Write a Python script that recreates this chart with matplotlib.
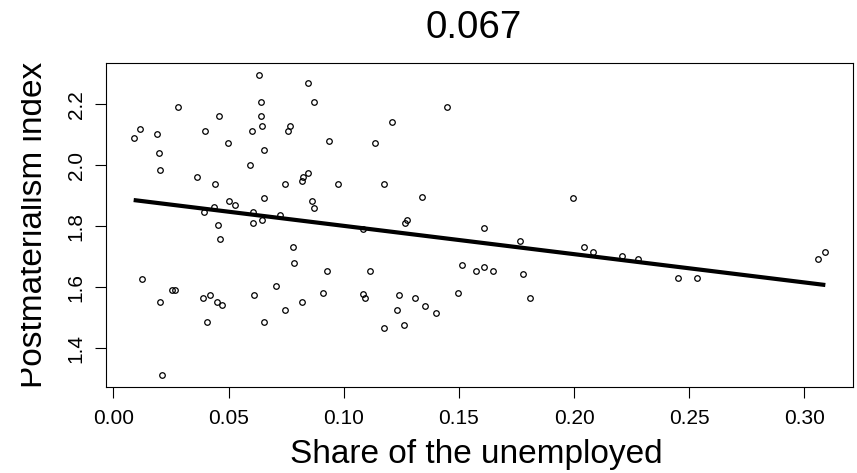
import matplotlib
matplotlib.use("Agg")
import matplotlib.pyplot as plt
from matplotlib.transforms import Bbox, TransformedBbox
import numpy as np

plt.rcParams["font.family"] = ["Liberation Sans", "DejaVu Sans"]

# Share of the unemployed per region
unemployed_share = [
    0.0088, 0.0114, 0.0123, 0.0188, 0.0197, 0.0204, 0.0202, 0.0209, 0.0255, 0.0268,
    0.0282, 0.0363, 0.0388, 0.0396, 0.0395, 0.0405, 0.0418, 0.0440, 0.0448, 0.0455,
    0.0460, 0.0464, 0.0471, 0.0498, 0.0500, 0.0530, 0.0593, 0.0603, 0.0604, 0.0611,
    0.0631, 0.0641, 0.0641, 0.0646, 0.0647, 0.0655, 0.0655, 0.0656, 0.0706, 0.0744,
    0.0744, 0.0757, 0.0767, 0.0781, 0.0782, 0.0818, 0.0820, 0.0824, 0.0847, 0.0847,
    0.0863, 0.0871, 0.0872, 0.0909, 0.0929, 0.0938, 0.0973, 0.1082, 0.1092, 0.1113,
    0.1137, 0.1173, 0.1173, 0.1208, 0.1232, 0.1241, 0.1263, 0.1268, 0.1276, 0.1308,
    0.1341, 0.1355, 0.1400, 0.1448, 0.1498, 0.1514, 0.1574, 0.1610, 0.1609, 0.1646,
    0.1765, 0.1780, 0.1808, 0.1995, 0.2045, 0.2083, 0.2209, 0.2277, 0.2450, 0.2535,
    0.3061, 0.3091, 0.0435, 0.0608, 0.0722, 0.1083,
]

# Postmaterialism index per region
postmat_index = [
    2.090, 2.118, 1.627, 2.102, 2.041, 1.984, 1.551, 1.312, 1.592, 1.592,
    2.191, 1.962, 1.564, 2.113, 1.847, 1.486, 1.576, 1.938, 1.553, 1.805,
    2.163, 1.759, 1.541, 2.073, 1.884, 1.871, 2.000, 2.113, 1.809, 1.575,
    2.296, 2.208, 2.163, 2.129, 1.821, 2.050, 1.894, 1.486, 1.603, 1.524,
    1.938, 2.113, 2.129, 1.731, 1.680, 1.949, 1.552, 1.962, 2.270, 1.973,
    1.884, 2.208, 1.861, 1.581, 1.653, 2.080, 1.938, 1.578, 1.565, 1.654,
    2.073, 1.940, 1.465, 2.141, 1.525, 1.576, 1.476, 1.810, 1.822, 1.566,
    1.895, 1.538, 1.514, 2.191, 1.582, 1.672, 1.654, 1.793, 1.665, 1.653,
    1.753, 1.642, 1.564, 1.894, 1.731, 1.715, 1.701, 1.693, 1.631, 1.631,
    1.691, 1.715, 1.862, 1.845, 1.836, 1.791,
]

# Linear fit: intercept and slope
fit_intercept = 1.894
fit_slope = -0.928

title_text = "0.067"
x_label = "Share of the unemployed"
y_label = "Postmaterialism index"
x_ticks = [0.00, 0.05, 0.10, 0.15, 0.20, 0.25, 0.30]
x_tick_labels = ["0.00", "0.05", "0.10", "0.15", "0.20", "0.25", "0.30"]
y_ticks = [1.4, 1.6, 1.8, 2.0, 2.2]
y_tick_labels = ["1.4", "1.6", "1.8", "2.0", "2.2"]

W, H = 857, 473
fig = plt.figure(figsize=(W / 100, H / 100), dpi=100)
ax = fig.add_axes([106 / W, 1 - 387 / H, (853 - 106) / W, (387 - 63) / H])

x = np.asarray(unemployed_share)
y = np.asarray(postmat_index)

ax.plot(x, y, linestyle="none", marker="o", markerfacecolor="none",
        markeredgecolor="black", markersize=4.0, markeredgewidth=0.9)

xs = np.array([x.min(), x.max()])
ax.plot(xs, fit_intercept + fit_slope * xs, color="black", linewidth=3,
        solid_capstyle="butt")

# 4% padding around the data range
xr = x.max() - x.min()
yr = y.max() - y.min()
ax.set_xlim(x.min() - 0.04 * xr, x.max() + 0.04 * xr)
ax.set_ylim(y.min() - 0.04 * yr, y.max() + 0.04 * yr)

ax.set_xticks(x_ticks)
ax.set_xticklabels(x_tick_labels)
ax.set_yticks(y_ticks)
ax.set_yticklabels(y_tick_labels)

ax.tick_params(axis="both", direction="out", length=8, width=0.8,
               labelsize=15, colors="black")
ax.tick_params(axis="x", pad=7.5)
ax.tick_params(axis="y", pad=6.5)
for lab in ax.get_yticklabels():
    lab.set_rotation(90)
    lab.set_verticalalignment("center")
    lab.set_horizontalalignment("right")

for sp in ax.spines.values():
    sp.set_linewidth(0.8)
    sp.set_color("black")

fig.text(474 / W, 1 - 38 / H, title_text, ha="center", va="baseline",
         fontsize=27.7)
fig.text(476 / W, 1 - 463 / H, x_label, ha="center", va="baseline",
         fontsize=24)
ylab = fig.text(42 / W, 1 - 225 / H, y_label, rotation=90,
                rotation_mode="anchor", ha="center", va="baseline",
                fontsize=24)
ylab.set_clip_box(TransformedBbox(Bbox([[21 / W, 0], [1, 1]]), fig.transFigure))
ylab.set_clip_on(True)

fig.savefig("out.png", dpi=100, facecolor="white")
